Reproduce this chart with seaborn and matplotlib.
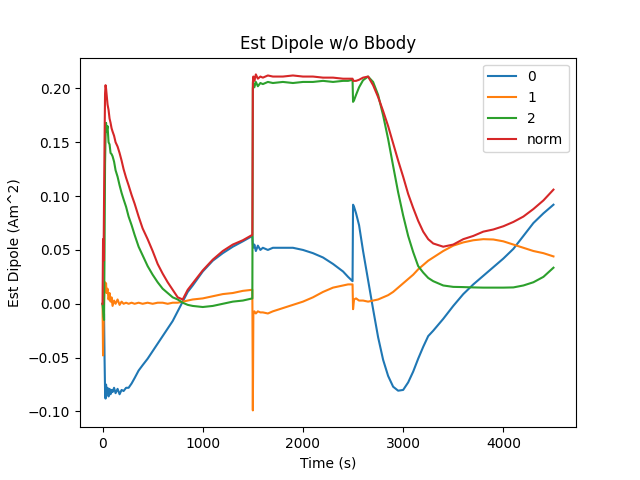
import matplotlib
matplotlib.use("Agg")
import matplotlib.pyplot as plt
import seaborn as sns
import pandas as pd

# Tiempo (s)
time_s = [0, 5, 10, 15, 20, 25, 30, 35, 40, 50, 60, 70, 80, 90, 100, 115, 130, 150,
          170, 190, 210, 235, 260, 290, 320, 360, 400, 450, 500, 550, 600, 650, 700,
          750, 800, 850, 900, 1000, 1100, 1200, 1300, 1400, 1495, 1500, 1505, 1515,
          1530, 1550, 1575, 1600, 1650, 1700, 1800, 1900, 2000, 2100, 2200, 2300,
          2400, 2450, 2495, 2500, 2510, 2530, 2560, 2600, 2650, 2700, 2750, 2800,
          2850, 2900, 2950, 3000, 3050, 3100, 3150, 3200, 3250, 3300, 3400, 3500,
          3600, 3700, 3800, 3900, 4000, 4100, 4200, 4300, 4400, 4500]

dip_0 = [0.0, -0.002, 0.0, -0.01, -0.05, -0.08, -0.088, -0.075, -0.083, -0.078, -0.086,
         -0.079, -0.084, -0.080, -0.082, -0.078, -0.083, -0.079, -0.084, -0.080, -0.081,
         -0.078, -0.078, -0.074, -0.069, -0.062, -0.057, -0.051, -0.044, -0.037, -0.030,
         -0.023, -0.016, -0.007, 0.002, 0.011, 0.017, 0.030, 0.040, 0.047, 0.053, 0.058,
         0.063, 0.055, 0.052, 0.055, 0.049, 0.054, 0.050, 0.052, 0.050, 0.052, 0.052,
         0.052, 0.050, 0.047, 0.043, 0.037, 0.030, 0.025, 0.021, 0.092, 0.090, 0.084,
         0.073, 0.049, 0.022, -0.005, -0.031, -0.052, -0.067, -0.077, -0.0807, -0.080,
         -0.073, -0.063, -0.051, -0.040, -0.030, -0.025, -0.014, -0.002, 0.009, 0.018,
         0.026, 0.034, 0.042, 0.051, 0.063, 0.075, 0.084, 0.092]

dip_1 = [0.0, -0.048, -0.02, 0.005, 0.015, 0.020, 0.012, 0.019, 0.010, 0.014, 0.004,
         0.010, 0.002, 0.006, -0.002, 0.003, 0.000, 0.004, -0.001, 0.002, 0.000, 0.001,
         0.000, 0.001, 0.000, 0.001, 0.000, 0.001, 0.000, 0.001, 0.001, 0.000, 0.001,
         0.001, 0.002, 0.003, 0.004, 0.005, 0.007, 0.009, 0.010, 0.012, 0.013, -0.099,
         -0.010, -0.007, -0.009, -0.007, -0.008, -0.008, -0.009, -0.007, -0.004, -0.001,
         0.002, 0.006, 0.011, 0.015, 0.017, 0.018, 0.018, -0.005, 0.004, 0.005, 0.003,
         0.003, 0.002, 0.003, 0.004, 0.006, 0.008, 0.011, 0.015, 0.019, 0.023, 0.027,
         0.032, 0.036, 0.040, 0.043, 0.049, 0.054, 0.057, 0.059, 0.060, 0.0597, 0.058,
         0.055, 0.052, 0.049, 0.047, 0.044]

dip_2 = [0.0, -0.005, -0.012, -0.015, 0.05, 0.13, 0.155, 0.168, 0.160, 0.165, 0.150,
         0.148, 0.140, 0.139, 0.137, 0.132, 0.124, 0.118, 0.110, 0.103, 0.097, 0.090,
         0.081, 0.073, 0.064, 0.053, 0.045, 0.035, 0.027, 0.020, 0.014, 0.010, 0.006,
         0.004, 0.001, -0.001, -0.002, -0.003, -0.002, 0.000, 0.002, 0.003, 0.005, 0.200,
         0.205, 0.201, 0.206, 0.202, 0.205, 0.204, 0.206, 0.205, 0.206, 0.205, 0.206,
         0.206, 0.207, 0.206, 0.207, 0.207, 0.208, 0.1875, 0.189, 0.194, 0.201, 0.2076,
         0.211, 0.206, 0.194, 0.175, 0.153, 0.128, 0.1035, 0.082, 0.063, 0.048, 0.035,
         0.029, 0.024, 0.021, 0.017, 0.0157, 0.0155, 0.0152, 0.015, 0.015, 0.015, 0.0152,
         0.017, 0.020, 0.025, 0.0335]

dip_norm = [0.0, 0.06, 0.04, 0.097, 0.15, 0.195, 0.203, 0.200, 0.195, 0.185, 0.180,
            0.172, 0.168, 0.163, 0.160, 0.156, 0.150, 0.146, 0.140, 0.133, 0.125, 0.117,
            0.110, 0.101, 0.093, 0.081, 0.070, 0.060, 0.049, 0.037, 0.028, 0.020, 0.013,
            0.006, 0.004, 0.013, 0.019, 0.031, 0.041, 0.049, 0.055, 0.059, 0.064, 0.205,
            0.211, 0.207, 0.213, 0.209, 0.211, 0.210, 0.212, 0.211, 0.211, 0.212, 0.211,
            0.211, 0.210, 0.210, 0.209, 0.209, 0.209, 0.207, 0.207, 0.207, 0.208, 0.210,
            0.211, 0.203, 0.192, 0.179, 0.165, 0.149, 0.133, 0.118, 0.102, 0.089, 0.077,
            0.067, 0.060, 0.056, 0.053, 0.055, 0.060, 0.063, 0.067, 0.069, 0.072, 0.076,
            0.081, 0.088, 0.096, 0.106]

series_names = ["0", "1", "2", "norm"]
series_vals = [dip_0, dip_1, dip_2, dip_norm]

frames = []
for name, vals in zip(series_names, series_vals):
    frames.append(pd.DataFrame({"time": time_s, "dipole": vals, "comp": name}))
df = pd.concat(frames, ignore_index=True)

fig, ax = plt.subplots(figsize=(6.4, 4.8), dpi=100)
sns.lineplot(data=df, x="time", y="dipole", hue="comp", hue_order=series_names,
             palette=sns.color_palette("tab10", 4), estimator=None, sort=False,
             linewidth=1.5, ax=ax)

ax.legend(loc="upper right")
ax.set_title("Est Dipole w/o Bbody")
ax.set_xlabel("Time (s)")
ax.set_ylabel("Est Dipole (Am^2)")

plt.savefig("out.png", dpi=100)
